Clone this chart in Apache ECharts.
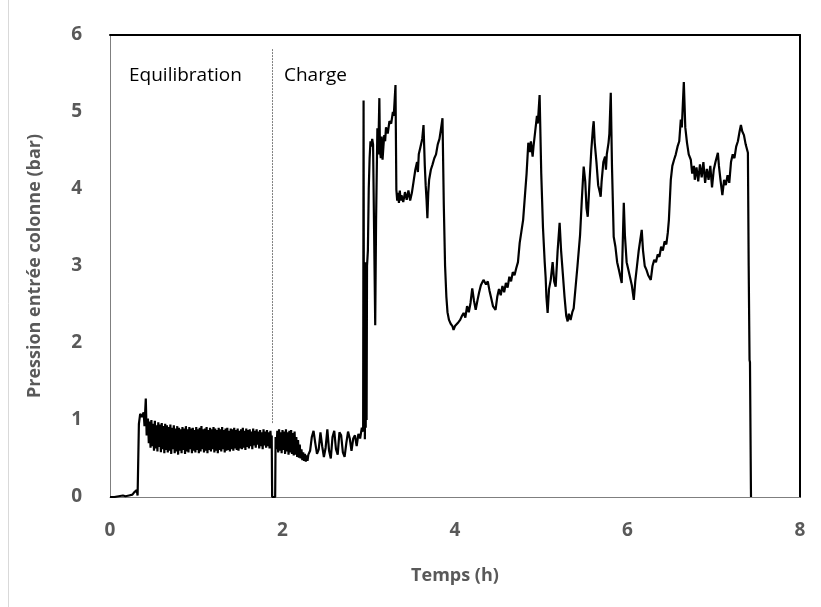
<!DOCTYPE html>
<html>
<head>
<meta charset="utf-8">
<script src="https://cdn.jsdelivr.net/npm/echarts@6/dist/echarts.min.js"></script>
<style>html,body{margin:0;padding:0;background:#fff;}#chart{width:821px;height:607px;}</style>
</head>
<body>
<div id="chart"></div>
<script>
// Axis settings
const xTitle = 'Temps (h)';
const yTitle = 'Pression entrée colonne (bar)';
const phaseLabels = ['Equilibration', 'Charge'];
const phaseBoundary = 1.88; // h

// [time (h), pressure (bar)] segments
const startData = [[0,0],[0.05,0],[0.1,0.01],[0.15,0.02],[0.18,0.01],[0.2,0.03],[0.22,0.02],[0.24,0.04],[0.26,0.03],[0.28,0.06],[0.29,0.04],[0.30,0.07],[0.31,0.09],[0.32,0.02],[0.325,0]];

const equilibrationData = [[0.335,0.95],[0.35,1.08],[0.37,1.04],[0.39,1.10],[0.40,0.92],[0.415,1.28],[0.425,0.80],
[0.43,0.80],[0.44,1.02],[0.45,0.70],[0.46,0.98],[0.47,0.64],[0.48,1.00],[0.49,0.66],[0.50,0.95],[0.51,0.60],[0.52,0.99],[0.53,0.63],[0.54,0.93],[0.55,0.59],[0.56,0.97],[0.57,0.65],[0.58,0.94],[0.59,0.58],[0.60,0.96],[0.61,0.62],[0.62,0.92],[0.63,0.57],[0.64,0.95],[0.65,0.61],[0.66,0.93],[0.67,0.58],[0.68,0.91],[0.69,0.60],[0.70,0.94],[0.71,0.56],[0.72,0.90],[0.73,0.62],[0.74,0.93],[0.75,0.57],[0.76,0.89],[0.77,0.59],[0.78,0.92],[0.79,0.55],[0.80,0.90],[0.81,0.60],[0.82,0.88],[0.83,0.57],[0.84,0.91],[0.85,0.61],[0.86,0.89],[0.87,0.56],[0.88,0.92],[0.89,0.59],[0.90,0.88],[0.91,0.58],[0.92,0.91],[0.93,0.62],[0.94,0.89],[0.95,0.57],[0.96,0.90],[0.97,0.60],[0.98,0.87],[0.99,0.58],[1.00,0.91],[1.01,0.61],[1.02,0.88],[1.03,0.57],[1.04,0.90],[1.05,0.59],[1.06,0.92],[1.07,0.62],[1.08,0.88],[1.09,0.58],[1.10,0.89],[1.11,0.60],[1.12,0.91],[1.13,0.57],[1.14,0.87],[1.15,0.61],[1.16,0.90],[1.17,0.59],[1.18,0.88],[1.19,0.62],[1.20,0.91],[1.21,0.58],[1.22,0.89],[1.23,0.60],[1.24,0.87],[1.25,0.57],[1.26,0.90],[1.27,0.61],[1.28,0.88],[1.29,0.59],[1.30,0.91],[1.31,0.62],[1.32,0.87],[1.33,0.58],[1.34,0.89],[1.35,0.60],[1.36,0.90],[1.37,0.61],[1.38,0.86],[1.39,0.59],[1.40,0.89],[1.41,0.62],[1.42,0.88],[1.43,0.60],[1.44,0.90],[1.45,0.63],[1.46,0.87],[1.47,0.61],[1.48,0.89],[1.49,0.60],[1.50,0.86],[1.51,0.63],[1.52,0.88],[1.53,0.62],[1.54,0.90],[1.55,0.64],[1.56,0.86],[1.57,0.61],[1.58,0.89],[1.59,0.65],[1.60,0.87],[1.61,0.63],[1.62,0.88],[1.63,0.66],[1.64,0.85],[1.65,0.62],[1.66,0.89],[1.67,0.67],[1.68,0.86],[1.69,0.64],[1.70,0.88],[1.71,0.68],[1.72,0.85],[1.73,0.63],[1.74,0.87],[1.75,0.66],[1.76,0.84],[1.77,0.62],[1.78,0.88],[1.79,0.67],[1.80,0.85],[1.81,0.64],[1.82,0.87],[1.83,0.66],[1.84,0.84],[1.85,0.63],[1.86,0.86],[1.87,0.68],[1.875,0.80],[1.88,0],[1.915,0]];

const chargeLowData = [[1.92,0.78],[1.93,0.62],[1.94,0.86],[1.95,0.58],[1.96,0.88],[1.97,0.60],[1.98,0.84],[1.99,0.57],[2.00,0.87],[2.01,0.61],[2.02,0.85],[2.03,0.56],[2.04,0.88],[2.05,0.59],[2.06,0.84],[2.07,0.55],[2.08,0.86],[2.09,0.58],[2.10,0.87],[2.11,0.56],[2.12,0.83],[2.13,0.54],[2.14,0.85],[2.15,0.55],[2.16,0.78],[2.17,0.52],[2.18,0.74],[2.19,0.51],[2.20,0.68],[2.21,0.50],[2.22,0.62],[2.23,0.48],[2.24,0.58],[2.25,0.47],[2.26,0.56],[2.27,0.46],[2.28,0.54],[2.29,0.47],[2.30,0.55],[2.32,0.60],[2.34,0.78],[2.36,0.86],[2.38,0.70],[2.40,0.56],[2.42,0.62],[2.44,0.84],[2.46,0.66],[2.48,0.52],[2.50,0.64],[2.52,0.88],[2.54,0.60],[2.56,0.50],[2.58,0.78],[2.60,0.86],[2.62,0.62],[2.64,0.55],[2.66,0.84],[2.68,0.80],[2.70,0.58],[2.72,0.52],[2.74,0.70],[2.76,0.85],[2.78,0.76],[2.80,0.60],[2.82,0.76],[2.84,0.80],[2.86,0.66],[2.88,0.82],[2.90,0.76],[2.92,0.90],[2.935,0.85]];

const chargeHighData = [[2.94,5.15],[2.945,0.9],[2.95,3.0],[2.955,0.75],[2.96,3.05],[2.965,0.9],[2.97,2.8],[2.975,1.0],[2.98,3.0],[2.99,3.2],[3.00,4.0],[3.01,4.4],[3.02,4.62],[3.03,4.55],[3.04,4.65],[3.05,4.58],[3.065,4.6],[3.075,2.23],[3.085,3.6],[3.10,4.79],[3.11,4.45],[3.123,5.18],[3.13,4.50],[3.14,4.40],[3.15,4.68],[3.16,4.38],[3.17,4.55],[3.18,4.70],[3.19,4.62],[3.20,4.80],[3.22,4.72],[3.24,4.88],[3.26,4.85],[3.28,5.0],[3.29,4.95],[3.30,5.15],[3.31,5.35],[3.32,3.99],[3.33,3.85],[3.34,3.95],[3.35,3.82],[3.36,3.98],[3.37,3.85],[3.38,3.92],[3.40,3.83],[3.42,3.96],[3.44,3.86],[3.46,3.98],[3.48,3.85],[3.50,3.95],[3.52,4.10],[3.54,4.25],[3.56,4.35],[3.57,4.22],[3.58,4.45],[3.60,4.55],[3.62,4.65],[3.635,4.83],[3.65,4.30],[3.66,4.05],[3.67,3.86],[3.68,3.62],[3.69,3.95],[3.70,4.12],[3.72,4.25],[3.74,4.32],[3.76,4.40],[3.78,4.45],[3.80,4.58],[3.82,4.65],[3.84,4.80],[3.855,4.92],[3.87,3.8],[3.885,3.0],[3.90,2.6],[3.913,2.40],[3.93,2.30],[3.95,2.25],[3.97,2.22],[3.983,2.17],[4.00,2.22],[4.02,2.20],[4.04,2.27],[4.06,2.30],[4.08,2.35],[4.10,2.39],[4.12,2.33],[4.14,2.48],[4.16,2.40],[4.18,2.52],[4.20,2.71],[4.22,2.55],[4.24,2.43],[4.26,2.55],[4.28,2.66],[4.30,2.75],[4.33,2.82],[4.36,2.76],[4.38,2.80],[4.40,2.68],[4.42,2.58],[4.44,2.48],[4.47,2.43],[4.49,2.60],[4.51,2.70],[4.53,2.62],[4.55,2.74],[4.57,2.66],[4.59,2.78],[4.61,2.72],[4.63,2.86],[4.65,2.80],[4.67,2.92],[4.69,2.88],[4.71,2.97],[4.73,3.05],[4.75,3.30],[4.77,3.45],[4.79,3.6],[4.81,3.9],[4.83,4.2],[4.85,4.60],[4.87,4.48],[4.88,4.62],[4.90,4.42],[4.91,4.55],[4.93,4.75],[4.95,4.95],[4.96,4.85],[4.981,5.22],[5.00,4.2],[5.02,3.5],[5.04,3.05],[5.051,2.85],[5.06,2.6],[5.074,2.39],[5.09,2.70],[5.11,2.82],[5.132,3.05],[5.15,2.80],[5.167,2.73],[5.19,3.20],[5.213,3.56],[5.23,3.20],[5.25,2.90],[5.27,2.60],[5.29,2.35],[5.306,2.28],[5.32,2.38],[5.34,2.30],[5.36,2.40],[5.376,2.45],[5.40,2.75],[5.42,3.00],[5.45,3.40],[5.47,3.85],[5.492,4.29],[5.51,4.10],[5.525,3.75],[5.539,3.64],[5.56,4.10],[5.58,4.50],[5.60,4.80],[5.608,4.88],[5.62,4.60],[5.64,4.35],[5.66,4.05],[5.68,3.95],[5.689,3.90],[5.70,4.10],[5.72,4.35],[5.74,4.42],[5.75,4.25],[5.76,4.45],[5.78,4.60],[5.79,4.72],[5.806,5.25],[5.82,4.30],[5.84,3.38],[5.86,3.25],[5.88,3.05],[5.90,2.95],[5.933,2.78],[5.945,3.3],[5.957,3.82],[5.97,3.40],[5.99,3.05],[6.01,2.95],[6.03,2.85],[6.05,2.75],[6.073,2.56],[6.09,2.80],[6.11,3.00],[6.13,3.20],[6.165,3.47],[6.18,3.20],[6.20,3.00],[6.22,2.95],[6.24,2.88],[6.27,2.82],[6.29,3.00],[6.31,3.08],[6.33,3.05],[6.35,3.15],[6.37,3.12],[6.39,3.25],[6.41,3.20],[6.43,3.32],[6.45,3.28],[6.467,3.43],[6.48,3.60],[6.502,4.12],[6.52,4.30],[6.54,4.38],[6.56,4.45],[6.58,4.55],[6.60,4.62],[6.618,4.90],[6.63,4.80],[6.653,5.39],[6.67,4.80],[6.69,4.60],[6.71,4.45],[6.734,4.38],[6.75,4.20],[6.77,4.30],[6.78,4.12],[6.80,4.28],[6.82,4.10],[6.84,4.32],[6.86,4.15],[6.88,4.35],[6.90,4.08],[6.92,4.26],[6.94,4.12],[6.96,4.30],[6.98,4.02],[7.00,4.25],[7.02,4.35],[7.048,4.47],[7.06,4.30],[7.08,4.10],[7.10,3.92],[7.12,4.12],[7.14,4.05],[7.16,4.18],[7.18,4.08],[7.20,4.35],[7.22,4.45],[7.24,4.40],[7.26,4.55],[7.28,4.62],[7.30,4.75],[7.315,4.83],[7.33,4.75],[7.35,4.70],[7.37,4.58],[7.396,4.47],[7.405,3.0],[7.415,1.78],[7.42,1.75],[7.431,0.1],[7.432,0]];

const pressureData = [].concat(startData, equilibrationData, chargeLowData, chargeHighData);

const grey = '#595959';
const chart = echarts.init(document.getElementById('chart'), null, {renderer: 'canvas'});
chart.setOption({
  animation: false,
  backgroundColor: '#ffffff',
  grid: {left: 110, right: 21, top: 35, bottom: 110, containLabel: false},
  xAxis: [{
    type: 'value', min: 0, max: 8, interval: 2,
    name: xTitle, nameLocation: 'middle', nameGap: 70,
    nameTextStyle: {color: grey, fontSize: 18, fontWeight: 'bold', fontFamily: 'Open Sans'},
    axisLine: {show: true, onZero: false, lineStyle: {color: '#7f7f7f', width: 1}},
    axisTick: {show: false},
    axisLabel: {color: grey, fontSize: 19, fontWeight: 'bold', fontFamily: 'Open Sans', margin: 24},
    splitLine: {show: false}
  }, {
    type: 'value', min: 0, max: 8, position: 'top',
    axisLine: {show: true, onZero: false, lineStyle: {color: '#000', width: 2}},
    axisTick: {show: false}, axisLabel: {show: false}, splitLine: {show: false}
  }],
  yAxis: [{
    type: 'value', min: 0, max: 6, interval: 1,
    name: yTitle, nameLocation: 'middle', nameGap: 66,
    nameTextStyle: {color: grey, fontSize: 18, fontWeight: 'bold', fontFamily: 'Open Sans'},
    axisLine: {show: true, onZero: false, lineStyle: {color: '#7f7f7f', width: 1}},
    axisTick: {show: false},
    axisLabel: {color: grey, fontSize: 19, fontWeight: 'bold', fontFamily: 'Open Sans', margin: 28},
    splitLine: {show: false}
  }, {
    type: 'value', min: 0, max: 6, position: 'right',
    axisLine: {show: true, onZero: false, lineStyle: {color: '#000', width: 2}},
    axisTick: {show: false}, axisLabel: {show: false}, splitLine: {show: false}
  }],
  series: [{
    type: 'line',
    data: pressureData,
    showSymbol: false,
    symbol: 'none',
    lineStyle: {color: '#000', width: 2.2},
    z: 3,
    markLine: {
      silent: true, symbol: 'none', label: {show: false},
      lineStyle: {color: '#7f7f7f', type: [2, 1], width: 1},
      data: [[{coord: [phaseBoundary, 0.96]}, {coord: [phaseBoundary, 5.83]}]]
    }
  }],
  graphic: [
    {type: 'line', shape: {x1: 8.5, y1: 0, x2: 8.5, y2: 607}, style: {stroke: '#d9d9d9', lineWidth: 1}},
    {type: 'text', left: 129, top: 66, style: {text: phaseLabels[0], fill: '#000', font: '19px "Open Sans"'}},
    {type: 'text', left: 284, top: 66, style: {text: phaseLabels[1], fill: '#000', font: '19px "Open Sans"'}}
  ]
});
</script>
</body>
</html>
